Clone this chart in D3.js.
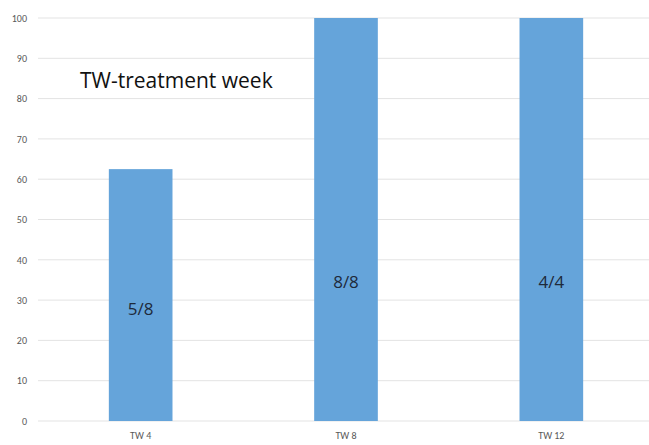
<!DOCTYPE html>
<html>
<head>
<meta charset="utf-8">
<script src="https://cdn.jsdelivr.net/npm/d3@7"></script>
<style>
  html, body { margin: 0; padding: 0; background: #fff; }
  svg { display: block; }
</style>
</head>
<body>
<svg id="chart" width="649" height="445"></svg>
<script>
const categories = ["TW 4", "TW 8", "TW 12"];
const values = [62.5, 100, 100];
const barLabels = ["5/8", "8/8", "4/4"];
const labelLevels = [27.9, 34.5, 34.5];
const yTicks = [0, 10, 20, 30, 40, 50, 60, 70, 80, 90, 100];
const titleText = "TW-treatment week";

const svg = d3.select("#chart");
const margin = { left: 38, right: -5, top: 18, bottom: 24 };
const W = 649, H = 445;

const x = d3.scaleBand().domain(categories)
  .range([margin.left, W - margin.right])
  .paddingInner(0.69).paddingOuter(0.345);
const y = d3.scaleLinear().domain([0, 100]).range([H - margin.bottom, margin.top]);

// gridlines
svg.append("g").selectAll("line").data(yTicks).join("line")
  .attr("x1", margin.left).attr("x2", W)
  .attr("y1", d => y(d)).attr("y2", d => y(d))
  .attr("stroke", "#e3e3e3").attr("stroke-width", 1);

// y axis labels
const yAxis = d3.axisLeft(y).tickValues(yTicks).tickSize(0).tickPadding(0);
const yg = svg.append("g").attr("transform", `translate(${margin.left - 11},0)`).call(yAxis);
yg.select(".domain").remove();
yg.selectAll("text").attr("fill", "#595959").style("font-family", "Calibri, Carlito, 'Open Sans', sans-serif").style("font-size", "10px");

// bars
svg.append("g").selectAll("rect").data(values).join("rect")
  .attr("x", (d, i) => x(categories[i]))
  .attr("width", x.bandwidth())
  .attr("y", d => y(d))
  .attr("height", d => y(0) - y(d))
  .attr("fill", "#65a4da");

// x axis labels
const xAxis = d3.axisBottom(x).tickSize(0).tickPadding(0);
const xg = svg.append("g").attr("transform", `translate(0,${y(0) + 11})`).call(xAxis);
xg.select(".domain").remove();
xg.selectAll("text").attr("fill", "#595959").style("font-family", "Calibri, Carlito, 'Open Sans', sans-serif").style("font-size", "10px");

// bar labels
svg.append("g").selectAll("text").data(barLabels).join("text")
  .attr("x", (d, i) => x(categories[i]) + x.bandwidth() / 2)
  .attr("y", (d, i) => y(labelLevels[i]))
  .attr("dy", "0.35em")
  .attr("text-anchor", "middle")
  .attr("fill", "#1e2a3a")
  .style("font-family", "'Open Sans', sans-serif")
  .style("font-size", "17px")
  .text(d => d);

// title annotation
svg.append("text")
  .attr("x", 80).attr("y", y(84.5))
  .attr("dy", "0.35em")
  .attr("fill", "#111")
  .style("font-family", "'Open Sans', sans-serif")
  .style("font-size", "21px")
  .text(titleText);
</script>
</body>
</html>
